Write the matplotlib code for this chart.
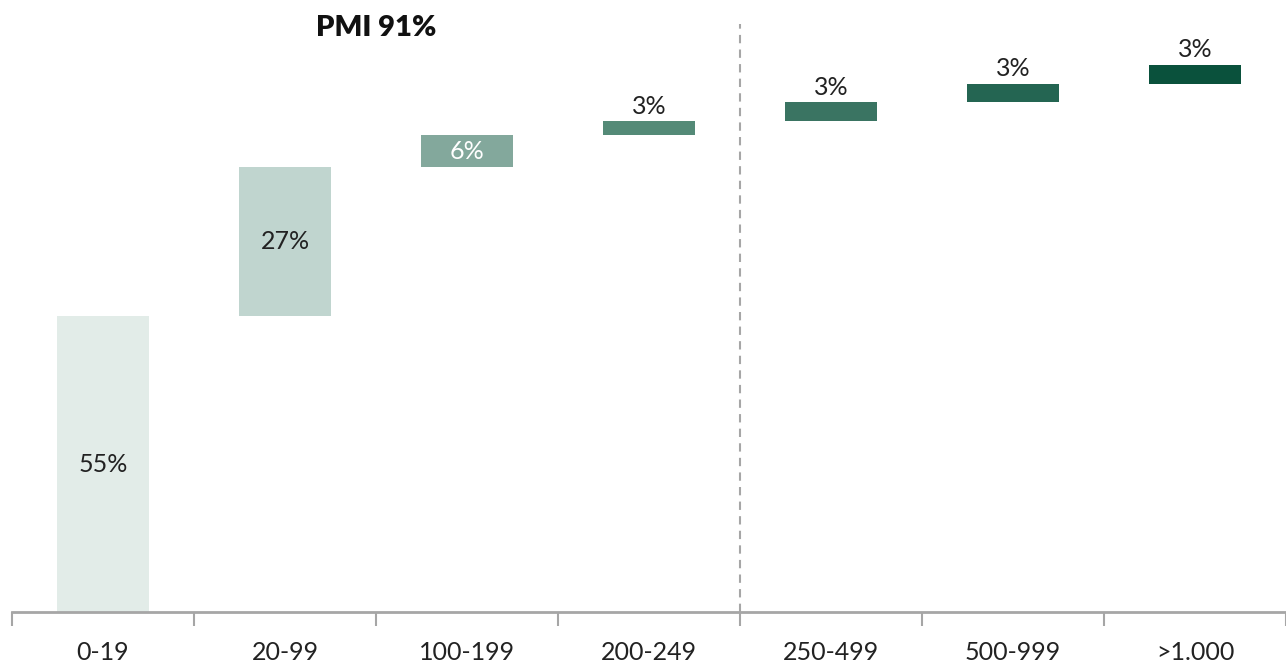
import matplotlib.pyplot as plt

plt.rcParams['font.family'] = ['Lato', 'DejaVu Sans']

categories = ["0-19", "20-99", "100-199", "200-249", "250-499", "500-999", ">1.000"]
# bar heights as drawn (percent); labels as printed
values = [55.0, 27.7, 5.9, 2.6, 3.5, 3.5, 3.5]
labels = ["55%", "27%", "6%", "3%", "3%", "3%", "3%"]
colors = ["#e2ece8", "#c0d5cf", "#83a89c", "#548a77", "#3a7462", "#246552", "#0a513c"]
label_inside = [True, True, True, False, False, False, False]
label_color = ["#222222", "#222222", "#ffffff", "#222222", "#222222", "#222222", "#222222"]
pmi_text = "PMI 91%"

fig = plt.figure(figsize=(12.86, 6.65), dpi=100)
ax = fig.add_axes([12 / 1286, 53 / 665, 1 - 12 / 1286, 592 / 665])

bottoms = []
run = 0
for v in values:
    bottoms.append(run)
    run += v

x = list(range(len(categories)))
ax.bar(x, values, bottom=bottoms, width=0.505, color=colors, zorder=2)

for i in x:
    if label_inside[i]:
        ax.text(i, bottoms[i] + values[i] / 2, labels[i], ha="center", va="center",
                fontsize=18, color=label_color[i])
    else:
        ax.text(i, bottoms[i] + values[i] + 0.6, labels[i], ha="center", va="bottom",
                fontsize=18, color=label_color[i])

# divider between groups
ax.vlines(3.5, 0, 109.3, colors="#a6a6a6", linestyles=(0, (4, 3)), linewidth=1.5)
ax.text(1.5, 108.6, pmi_text, ha="center", va="center", fontsize=21,
        fontweight="heavy", color="#111111")

ax.set_xlim(-0.5, 6.33)
ax.set_ylim(0, 110)

for s in ["top", "right", "left"]:
    ax.spines[s].set_visible(False)
ax.spines["bottom"].set_color("#a6a6a6")
ax.spines["bottom"].set_linewidth(2)
ax.set_yticks([])

ax.set_xticks([i - 0.5 for i in range(len(categories) + 1)])
ax.set_xticklabels([])
ax.set_xticks(x, minor=True)
ax.set_xticklabels(categories, minor=True)
ax.tick_params(axis="x", which="major", length=10, width=1.5, color="#a6a6a6")
ax.tick_params(axis="x", which="minor", length=0, pad=21, labelsize=18, labelcolor="#222222")

fig.savefig("out.png", dpi=100)
